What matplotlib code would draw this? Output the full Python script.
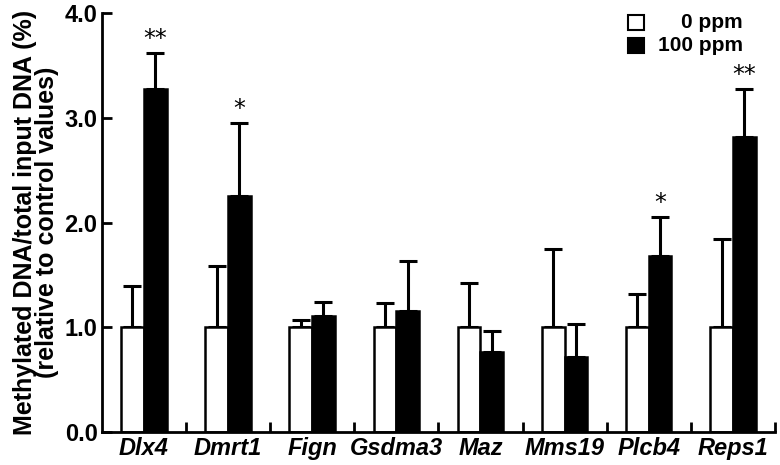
import numpy as np
import matplotlib.pyplot as plt
from matplotlib.patches import Rectangle

plt.rcParams['font.family'] = ['Liberation Sans', 'DejaVu Sans']
plt.rcParams['font.weight'] = 'bold'

genes = ['Dlx4', 'Dmrt1', 'Fign', 'Gsdma3', 'Maz', 'Mms19', 'Plcb4', 'Reps1']
ctrl = [1.0, 1.0, 1.0, 1.0, 1.0, 1.0, 1.0, 1.0]
ctrl_err = [0.39, 0.58, 0.07, 0.23, 0.42, 0.75, 0.32, 0.84]
treat = [3.28, 2.25, 1.11, 1.15, 0.76, 0.71, 1.68, 2.82]
treat_err = [0.34, 0.70, 0.13, 0.48, 0.20, 0.32, 0.37, 0.46]
stars = ['**', '*', '', '', '', '', '*', '**']
legend_labels = ['0 ppm', '100 ppm']

x = np.arange(len(genes)) + 0.5
w = 0.27

fig = plt.figure(figsize=(7.8, 4.65), dpi=100)
ax = fig.add_axes([0.1304, 0.0716, 0.8632, 0.8998])

ekw = dict(fmt='none', ecolor='black', elinewidth=2.2, capsize=6.5, capthick=2.2, zorder=1)
ax.errorbar(x - w / 2, ctrl, yerr=[np.zeros(len(ctrl)), ctrl_err], **ekw)
ax.errorbar(x + w / 2, treat, yerr=[np.zeros(len(treat)), treat_err], **ekw)
ax.bar(x - w / 2, ctrl, w, color='white', edgecolor='black', linewidth=1.8, zorder=2)
ax.bar(x + w / 2, treat, w, color='black', edgecolor='black', linewidth=1.8, zorder=2)

for xi, t, e, s in zip(x, treat, treat_err, stars):
    if s:
        ax.text(xi + w / 2, t + e + 0.02, s, ha='center', va='bottom',
                fontsize=17, fontweight='normal', family='DejaVu Sans')

ax.set_xlim(0, len(genes))
ax.set_ylim(0, 4.0)
ax.set_yticks([0, 1, 2, 3, 4])
ax.set_yticklabels(['%.1f' % v for v in [0, 1, 2, 3, 4]], fontsize=17, fontweight='bold')
ax.set_xticks(x)
ax.set_xticklabels(genes, fontsize=17, fontweight='bold', style='italic')
ax.tick_params(axis='x', which='major', length=0, pad=4)
ax.set_xticks(np.arange(1, len(genes) + 1), minor=True)
ax.tick_params(axis='x', which='minor', direction='in', length=7, width=2)
ax.tick_params(axis='y', direction='in', length=7, width=2, pad=3)

for sp in ['top', 'right']:
    ax.spines[sp].set_visible(False)
for sp in ['left', 'bottom']:
    ax.spines[sp].set_linewidth(2)

ax.set_ylabel('Methylated DNA/total input DNA (%)\n(relative to control values)',
              fontsize=18, fontweight='bold', linespacing=0.9, labelpad=4)

# legend
for i, (lab, col) in enumerate(zip(legend_labels, ['white', 'black'])):
    yb = 0.960 - i * 0.055
    ax.add_patch(Rectangle((0.782, yb), 0.024, 0.035, transform=ax.transAxes,
                           facecolor=col, edgecolor='black', linewidth=1.5, clip_on=False))
    ax.text(0.952, yb + 0.0175, lab, transform=ax.transAxes, ha='right', va='center',
            fontsize=15, fontweight='bold')

fig.savefig('out.png', dpi=100)
